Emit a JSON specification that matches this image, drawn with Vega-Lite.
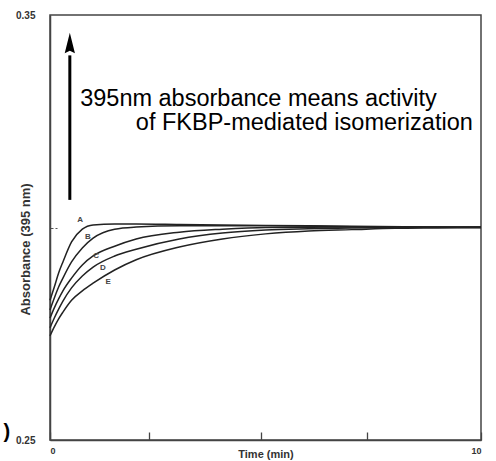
{
  "$schema": "https://vega.github.io/schema/vega-lite/v6.json",
  "width": 431,
  "height": 425,
  "autosize": {"type": "none"},
  "padding": {"left": 50, "top": 15, "right": 15, "bottom": 21},
  "background": "white",
  "config": {
    "view": {"stroke": "#444", "strokeWidth": 1.5},
    "font": "Liberation Sans"
  },
  "datasets": {
    "curves": [
      {"curve": "A", "t": 0, "v": 0.2829}, {"curve": "A", "t": 0.1, "v": 0.2860}, {"curve": "A", "t": 0.2, "v": 0.2893}, {"curve": "A", "t": 0.3, "v": 0.2919}, {"curve": "A", "t": 0.5, "v": 0.2966}, {"curve": "A", "t": 0.75, "v": 0.2996}, {"curve": "A", "t": 1, "v": 0.3006}, {"curve": "A", "t": 1.5, "v": 0.3008}, {"curve": "A", "t": 2, "v": 0.3008}, {"curve": "A", "t": 3, "v": 0.3007}, {"curve": "A", "t": 5, "v": 0.3005}, {"curve": "A", "t": 7, "v": 0.3003}, {"curve": "A", "t": 10, "v": 0.3000},
      {"curve": "B", "t": 0, "v": 0.2806}, {"curve": "B", "t": 0.1, "v": 0.2834}, {"curve": "B", "t": 0.2, "v": 0.2860}, {"curve": "B", "t": 0.3, "v": 0.2881}, {"curve": "B", "t": 0.5, "v": 0.2919}, {"curve": "B", "t": 0.75, "v": 0.2952}, {"curve": "B", "t": 1, "v": 0.2975}, {"curve": "B", "t": 1.5, "v": 0.2996}, {"curve": "B", "t": 2, "v": 0.3001}, {"curve": "B", "t": 3, "v": 0.3004}, {"curve": "B", "t": 5, "v": 0.3004}, {"curve": "B", "t": 7, "v": 0.3002}, {"curve": "B", "t": 10, "v": 0.3000},
      {"curve": "C", "t": 0, "v": 0.2787}, {"curve": "C", "t": 0.1, "v": 0.2811}, {"curve": "C", "t": 0.2, "v": 0.2832}, {"curve": "C", "t": 0.3, "v": 0.2851}, {"curve": "C", "t": 0.5, "v": 0.2881}, {"curve": "C", "t": 0.75, "v": 0.2912}, {"curve": "C", "t": 1, "v": 0.2933}, {"curve": "C", "t": 1.5, "v": 0.2956}, {"curve": "C", "t": 2, "v": 0.2973}, {"curve": "C", "t": 3, "v": 0.2989}, {"curve": "C", "t": 4, "v": 0.2996}, {"curve": "C", "t": 5, "v": 0.3000}, {"curve": "C", "t": 7, "v": 0.3001}, {"curve": "C", "t": 10, "v": 0.3001},
      {"curve": "D", "t": 0, "v": 0.2764}, {"curve": "D", "t": 0.1, "v": 0.2787}, {"curve": "D", "t": 0.2, "v": 0.2808}, {"curve": "D", "t": 0.3, "v": 0.2827}, {"curve": "D", "t": 0.5, "v": 0.2858}, {"curve": "D", "t": 0.75, "v": 0.2886}, {"curve": "D", "t": 1, "v": 0.2907}, {"curve": "D", "t": 1.5, "v": 0.2933}, {"curve": "D", "t": 2, "v": 0.2949}, {"curve": "D", "t": 3, "v": 0.2973}, {"curve": "D", "t": 4, "v": 0.2987}, {"curve": "D", "t": 5, "v": 0.2994}, {"curve": "D", "t": 6, "v": 0.2997}, {"curve": "D", "t": 7, "v": 0.2999}, {"curve": "D", "t": 8, "v": 0.3000}, {"curve": "D", "t": 10, "v": 0.3001},
      {"curve": "E", "t": 0, "v": 0.2745}, {"curve": "E", "t": 0.1, "v": 0.2766}, {"curve": "E", "t": 0.2, "v": 0.2785}, {"curve": "E", "t": 0.3, "v": 0.2801}, {"curve": "E", "t": 0.5, "v": 0.2829}, {"curve": "E", "t": 0.75, "v": 0.2851}, {"curve": "E", "t": 1, "v": 0.2869}, {"curve": "E", "t": 1.5, "v": 0.2900}, {"curve": "E", "t": 2, "v": 0.2924}, {"curve": "E", "t": 3, "v": 0.2954}, {"curve": "E", "t": 4, "v": 0.2973}, {"curve": "E", "t": 5, "v": 0.2985}, {"curve": "E", "t": 6, "v": 0.2992}, {"curve": "E", "t": 7, "v": 0.2995}, {"curve": "E", "t": 8, "v": 0.2998}, {"curve": "E", "t": 9, "v": 0.2999}, {"curve": "E", "t": 10, "v": 0.3000}
    ],
    "labels": [
      {"label": "A", "t": 0.70, "v": 0.3018},
      {"label": "B", "t": 0.88, "v": 0.2978},
      {"label": "C", "t": 1.07, "v": 0.2933},
      {"label": "D", "t": 1.23, "v": 0.2905},
      {"label": "E", "t": 1.35, "v": 0.2872}
    ],
    "arrow": [{"t": 0.46, "v": 0.3065, "v2": 0.3405, "tip": 0.3434}],
    "notes": [
      {"text": "395nm absorbance means activity", "t": 0.70, "v": 0.3286, "align": "left"},
      {"text": "of FKBP-mediated isomerization", "t": 9.81, "v": 0.3229, "align": "right"}
    ],
    "stray": [{"text": ")", "t": -1.08, "v": 0.2519}]
  },
  "encoding": {
    "x": {
      "field": "t", "type": "quantitative",
      "scale": {"domain": [0, 10], "nice": false, "zero": false},
      "axis": {
        "title": "Time (min)", "titleFont": "Liberation Sans", "titleFontSize": 11, "titleFontWeight": "bold", "titleColor": "#333",
        "titleBaseline": "alphabetic", "titleY": 17,
        "values": [0, 2.3, 4.9, 7.35, 10],
        "labelExpr": "datum.value == 0 || datum.value == 10 ? format(datum.value, 'd') : ''",
        "labelFontSize": 9, "labelFontWeight": "bold", "labelColor": "#333", "labelPadding": 14,
        "tickSize": -8, "tickColor": "#444", "tickWidth": 1.3,
        "domainColor": "#444", "domainWidth": 1.5, "grid": false
      }
    },
    "y": {
      "field": "v", "type": "quantitative",
      "scale": {"domain": [0.25, 0.35], "nice": false, "zero": false},
      "axis": {
        "title": "Absorbance (395 nm)", "titleFont": "Liberation Sans", "titleFontSize": 13, "titleFontWeight": "bold", "titleColor": "#333",
        "titleX": -18, "titleY": 234,
        "values": [0.25, 0.3, 0.35],
        "labelExpr": "abs(datum.value - 0.3) < 0.001 ? '' : format(datum.value, '.2f')",
        "labelFontSize": 10, "labelFontWeight": "bold", "labelColor": "#333", "labelPadding": 22,
        "tickSize": -7, "tickColor": "#555", "tickDash": [3, 2],
        "tickOpacity": {"condition": {"test": "abs(datum.value - 0.3) < 0.001", "value": 1}, "value": 0},
        "domainColor": "#444", "domainWidth": 1.5, "grid": false
      }
    }
  },
  "layer": [
    {
      "data": {"name": "curves"},
      "mark": {"type": "line", "color": "#222", "strokeWidth": 1.5, "interpolate": "monotone"},
      "encoding": {"detail": {"field": "curve", "type": "nominal"}}
    },
    {
      "data": {"name": "labels"},
      "mark": {"type": "text", "fontSize": 8, "fontWeight": "bold", "color": "#444"},
      "encoding": {"text": {"field": "label", "type": "nominal"}}
    },
    {
      "data": {"name": "arrow"},
      "mark": {"type": "rule", "color": "black", "strokeWidth": 3},
      "encoding": {"y2": {"field": "v2"}}
    },
    {
      "data": {"name": "arrow"},
      "mark": {"type": "point", "shape": "M0,-1L0.5,1L0,0.75L-0.5,1Z", "size": 420, "filled": true, "color": "black", "opacity": 1},
      "encoding": {"y": {"field": "tip", "type": "quantitative"}}
    },
    {
      "data": {"name": "notes"},
      "transform": [{"filter": "datum.align == 'left'"}],
      "mark": {"type": "text", "align": "left", "baseline": "alphabetic", "fontSize": 23.5, "font": "Liberation Sans", "color": "black"},
      "encoding": {"text": {"field": "text", "type": "nominal"}}
    },
    {
      "data": {"name": "notes"},
      "transform": [{"filter": "datum.align == 'right'"}],
      "mark": {"type": "text", "align": "right", "baseline": "alphabetic", "fontSize": 23.5, "font": "Liberation Sans", "color": "black"},
      "encoding": {"text": {"field": "text", "type": "nominal"}}
    },
    {
      "data": {"name": "stray"},
      "mark": {"type": "text", "align": "left", "baseline": "middle", "fontSize": 20, "fontWeight": "bold", "color": "black", "clip": false},
      "encoding": {"text": {"field": "text", "type": "nominal"}}
    }
  ]
}
